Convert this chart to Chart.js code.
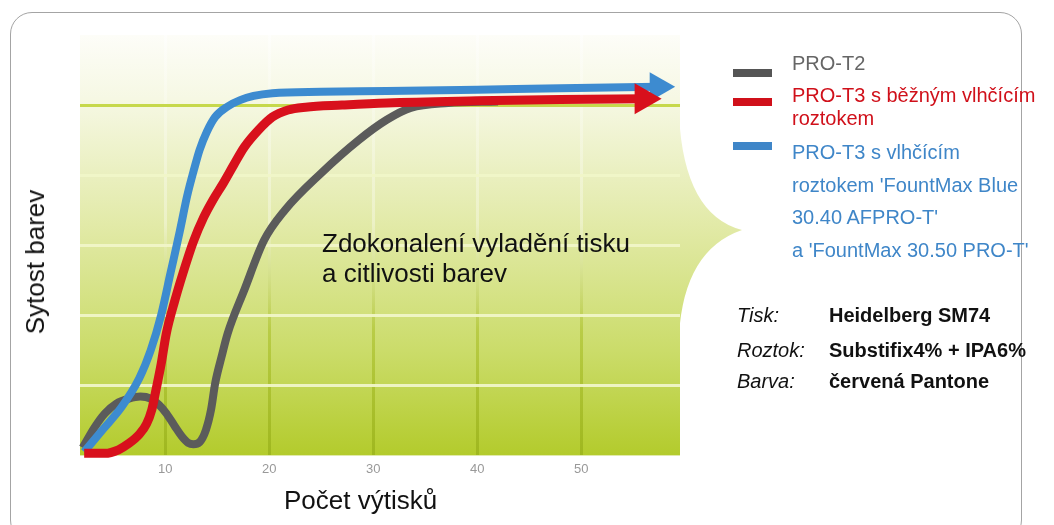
<!DOCTYPE html>
<html>
<head>
<meta charset="utf-8">
<script src="https://cdn.jsdelivr.net/npm/chart.js@4/dist/chart.umd.min.js"></script>
<style>
  body { margin: 0; background: #fff; font-family: "Liberation Sans", Arial, sans-serif; }
  #wrap { position: relative; width: 1054px; height: 525px; overflow: hidden; }
  #frame { position: absolute; left: 10px; top: 12px; width: 1012px; height: 530px;
           border: 1px solid #a4a4a4; border-radius: 22px; box-sizing: border-box; }
  canvas { position: absolute; left: 0; top: 0; }
  .t { position: absolute; white-space: nowrap; line-height: 1; }
  .sw { position: absolute; width: 39px; height: 8px; }
</style>
</head>
<body>
<div id="wrap">
  <div id="frame"></div>
  <canvas id="chart" width="1054" height="525"></canvas>

  <div class="t" style="left:322px; top:230px; font-size:26px; color:#111;">Zdokonalení vyladění tisku</div>
  <div class="t" style="left:322px; top:260px; font-size:26px; color:#111;">a citlivosti barev</div>

  <div class="t" style="left:284px; top:487px; font-size:26px; color:#111;">Počet výtisků</div>
  <div class="t" style="left:35px; top:262px; font-size:26px; color:#111; transform: translate(-50%,-50%) rotate(-90deg);">Sytost barev</div>

  <div class="sw" style="left:733px; top:69px; background:#555;"></div>
  <div class="t" style="left:792px; top:53px; font-size:20px; color:#666;">PRO-T2</div>
  <div class="sw" style="left:733px; top:98px; background:#d0101a;"></div>
  <div class="t" style="left:792px; top:85px; font-size:20px; color:#d0101a;">PRO-T3 s běžným vlhčícím</div>
  <div class="t" style="left:792px; top:108px; font-size:20px; color:#d0101a;">roztokem</div>
  <div class="sw" style="left:733px; top:142px; background:#3f86c8;"></div>
  <div class="t" style="left:792px; top:142px; font-size:20px; color:#3f86c8;">PRO-T3 s vlhčícím</div>
  <div class="t" style="left:792px; top:175px; font-size:20px; color:#3f86c8;">roztokem 'FountMax Blue</div>
  <div class="t" style="left:792px; top:207px; font-size:20px; color:#3f86c8;">30.40 AFPRO-T'</div>
  <div class="t" style="left:792px; top:240px; font-size:20px; color:#3f86c8;">a 'FountMax 30.50 PRO-T'</div>

  <div class="t" style="left:737px; top:305px; font-size:20px; font-style:italic; color:#111;">Tisk:</div>
  <div class="t" style="left:829px; top:305px; font-size:20px; font-weight:bold; color:#111;">Heidelberg SM74</div>
  <div class="t" style="left:737px; top:340px; font-size:20px; font-style:italic; color:#111;">Roztok:</div>
  <div class="t" style="left:829px; top:340px; font-size:20px; font-weight:bold; color:#111;">Substifix4% + IPA6%</div>
  <div class="t" style="left:737px; top:371px; font-size:20px; font-style:italic; color:#111;">Barva:</div>
  <div class="t" style="left:829px; top:371px; font-size:20px; font-weight:bold; color:#111;">červená Pantone</div>
</div>

<script>
// hodnoty
const xTicks = [10, 20, 30, 40, 50];
const yGrid = [1, 2, 3, 4, 5];

const grayX = [2.06, 3.2, 4.2, 5.3, 6.5, 7.6, 8.6, 9.4, 10.1, 10.9, 11.6, 12.2, 12.7, 13.3, 13.9, 14.4, 14.8, 15.4, 16.0, 17.6, 19.5, 21.5, 25.0, 28.6, 31.3, 33.6, 37.2, 42];
const grayY = [0.11, 0.4, 0.6, 0.74, 0.81, 0.84, 0.81, 0.72, 0.6, 0.42, 0.27, 0.18, 0.16, 0.19, 0.36, 0.65, 1.03, 1.4, 1.74, 2.36, 3.07, 3.5, 4.03, 4.5, 4.79, 4.96, 5.03, 5.05];

const redX = [2.2, 4.2, 5.5, 6.5, 7.5, 8.2, 8.7, 9.1, 9.6, 10.1, 10.9, 11.7, 12.7, 13.7, 14.6, 15.6, 16.6, 17.6, 19.0, 20.3, 21.8, 23.5, 27, 31.3, 40, 48, 56];
const redY = [0.03, 0.03, 0.08, 0.17, 0.3, 0.45, 0.65, 0.93, 1.3, 1.74, 2.2, 2.6, 3.05, 3.4, 3.65, 3.89, 4.15, 4.4, 4.65, 4.83, 4.93, 4.97, 5.0, 5.03, 5.06, 5.08, 5.09];

const blueX = [2.2, 4.0, 5.8, 7.5, 8.6, 9.6, 10.5, 11.4, 12.1, 12.8, 13.3, 14.0, 14.8, 16.0, 17.2, 18.5, 20.3, 25, 31.3, 40, 48, 57.4];
const blueY = [0.05, 0.37, 0.69, 1.1, 1.5, 2.0, 2.6, 3.2, 3.7, 4.1, 4.36, 4.62, 4.83, 4.98, 5.07, 5.13, 5.17, 5.19, 5.2, 5.22, 5.24, 5.26];

const pts = (xs, ys) => xs.map((x, i) => ({ x: x, y: ys[i] }));

function plotGradient(chart) {
    const a = chart.chartArea;
    const g = chart.ctx.createLinearGradient(0, a.top, 0, a.bottom);
    g.addColorStop(0, "#fdfdf8");
    g.addColorStop(0.15, "#f6f8e4");
    g.addColorStop(0.45, "#e2eaa8");
    g.addColorStop(0.75, "#cbdc6a");
    g.addColorStop(1, "#b3cb2c");
    return g;
}

// pozadí grafu se zeleným přechodem a výběžkem k legendě
const background = {
    id: "background",
    beforeDraw(chart) {
        const a = chart.chartArea;
        const c = chart.ctx;
        c.save();
        c.fillStyle = plotGradient(chart);
        c.fillRect(a.left, a.top, a.right - a.left, a.bottom - a.top);
        c.beginPath();
        c.moveTo(a.right - 1, a.top + 80);
        c.quadraticCurveTo(a.right + 4, a.top + 180, a.right + 62, a.top + 195);
        c.quadraticCurveTo(a.right + 4, a.top + 215, a.right - 1, a.top + 300);
        c.closePath();
        c.fill();
        c.restore();
    }
};

function arrow(r) {
    return ctx => ctx.dataIndex === ctx.dataset.data.length - 1 ? r : 0;
}

new Chart(document.getElementById("chart"), {
    type: "line",
    data: {
        datasets: [
            {
                label: "PRO-T3 s běžným vlhčícím roztokem",
                data: pts(redX, redY),
                borderColor: "#d8101c",
                backgroundColor: "#d8101c",
                borderWidth: 9,
                pointStyle: "triangle",
                pointRotation: 90,
                pointRadius: arrow(18),
                pointBorderWidth: 0
            },
            {
                label: "PRO-T3 s vlhčícím roztokem 'FountMax Blue 30.40 AFPRO-T' a 'FountMax 30.50 PRO-T'",
                data: pts(blueX, blueY),
                borderColor: "#3d8bd0",
                backgroundColor: "#3d8bd0",
                borderWidth: 8,
                pointStyle: "triangle",
                pointRotation: 90,
                pointRadius: arrow(17),
                pointBorderWidth: 0
            },
            {
                label: "PRO-T2",
                data: pts(grayX, grayY),
                borderColor: "#5b5b5b",
                borderWidth: 8,
                pointRadius: 0
            }
        ]
    },
    options: {
        responsive: false,
        animation: false,
        events: [],
        clip: false,
        cubicInterpolationMode: "monotone",
        layout: { padding: { left: 80, top: 35, right: 374, bottom: 42 } },
        plugins: { legend: { display: false }, tooltip: { enabled: false } },
        scales: {
            x: {
                type: "linear",
                min: 1.8,
                max: 59.5,
                afterBuildTicks: axis => { axis.ticks = xTicks.map(v => ({ value: v })); },
                border: { display: false },
                grid: {
                    drawTicks: false,
                    lineWidth: 3,
                    color: ctx => {
                        const a = ctx.chart.chartArea;
                        if (!a) return "#a9c02a";
                        const g = ctx.chart.ctx.createLinearGradient(0, a.top, 0, a.bottom);
                        g.addColorStop(0, "rgba(255,255,255,0.5)");
                        g.addColorStop(0.45, "rgba(240,244,210,0.7)");
                        g.addColorStop(0.7, "rgba(180,200,60,0.8)");
                        g.addColorStop(1, "#9fb71f");
                        return g;
                    }
                },
                ticks: {
                    color: "#999",
                    padding: 6,
                    font: { family: "'Liberation Sans', Arial", size: 13 }
                }
            },
            y: {
                min: 0,
                max: 6,
                afterBuildTicks: axis => { axis.ticks = yGrid.map(v => ({ value: v })); },
                border: { display: false },
                grid: {
                    drawTicks: false,
                    lineWidth: 3,
                    color: ctx => ctx.tick && ctx.tick.value === 5 ? "#c6d84c" : "rgba(240,245,200,0.95)"
                },
                ticks: { display: false }
            }
        }
    },
    plugins: [background]
});
</script>
</body>
</html>
